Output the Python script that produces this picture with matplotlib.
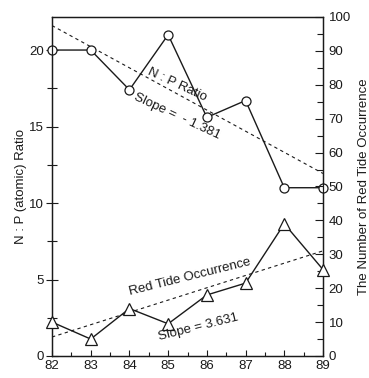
import matplotlib
matplotlib.use("Agg")
import matplotlib.pyplot as plt
from matplotlib.ticker import MultipleLocator
from matplotlib.transforms import IdentityTransform
import numpy as np

plt.rcParams['font.family'] = ['Liberation Sans', 'DejaVu Sans']

years = [82, 83, 84, 85, 86, 87, 88, 89]
np_ratio = [20.0, 20.0, 17.4, 21.0, 15.6, 16.7, 11.0, 11.0]
red_tide = [10, 5, 14, 9.5, 18, 21.5, 39, 25.5]

np_slope = -1.381
np_start = 21.6      # trend value at 82
rt_slope = 3.631
rt_start = 5.6       # trend value at 82

xticks = [82, 83, 84, 85, 86, 87, 88, 89]
left_ticks = [0, 5, 10, 15, 20]
right_ticks = [0, 10, 20, 30, 40, 50, 60, 70, 80, 90, 100]

W, H = 369, 378
fig = plt.figure(figsize=(W / 100, H / 100), dpi=100)
ax = fig.add_axes([52/W, 1-356/H, (323-52)/W, (356-17)/H])
ax2 = ax.twinx()

fs = 9.5
lc = '#1a1a1a'

# N:P ratio
ax.plot(years, np_ratio, color=lc, lw=1.0, marker='o', ms=6.5,
        mfc='white', mec=lc, mew=0.9, clip_on=False, zorder=5)
tx = np.array([years[0], years[-1]])
ax.plot(tx, np_start + np_slope * (tx - years[0]), color=lc, lw=0.8,
        ls=(0, (3, 3)), zorder=3)

# Red tide
ax2.plot(years, red_tide, color=lc, lw=1.0, marker='^', ms=8,
         mfc='white', mec=lc, mew=0.9, clip_on=False, zorder=5)
ax2.plot(tx, rt_start + rt_slope * (tx - years[0]), color=lc, lw=0.8,
         ls=(0, (3, 3)), zorder=3)

ax.set_xlim(82, 89)
ax.set_ylim(0, 22.16)
ax2.set_ylim(0, 100)

ax.set_xticks(xticks)
ax.xaxis.set_minor_locator(MultipleLocator(0.5))
ax.set_yticks(left_ticks)
ax.yaxis.set_minor_locator(MultipleLocator(2.5))
ax2.set_yticks(right_ticks)
ax2.yaxis.set_minor_locator(MultipleLocator(5))

ax.tick_params(axis='x', which='major', direction='in', length=4, width=0.8,
               labelsize=fs, pad=3, colors=lc)
ax.tick_params(axis='x', which='minor', direction='in', length=3, width=0.8, colors=lc)
ax.tick_params(axis='y', which='major', direction='inout', length=8, width=0.8,
               labelsize=fs, pad=2, colors=lc)
ax.tick_params(axis='y', which='minor', direction='inout', length=7, width=0.8, colors=lc)
ax2.tick_params(axis='y', which='major', direction='in', length=6, width=0.8,
                labelsize=fs, pad=4, colors=lc)
ax2.tick_params(axis='y', which='minor', direction='in', length=4, width=0.8, colors=lc)

for a in (ax, ax2):
    for s in a.spines.values():
        s.set_linewidth(0.9)
        s.set_color(lc)

ax.set_ylabel('N : P (atomic) Ratio', fontsize=fs, color=lc)
ax.yaxis.set_label_coords(-25/271, 0.5)
ax2.set_ylabel('The Number of Red Tide Occurrence', fontsize=fs, color=lc,
               rotation=90)
ax2.yaxis.set_label_coords((358-52)/271, 0.5)

# Annotations (pixel positions from top-left)
def ptext(x, y, s, rot):
    fig.text(x, H - y, s, transform=IdentityTransform(), fontsize=fs, color=lc,
             rotation=rot, ha='center', va='center', rotation_mode='anchor')

ptext(177, 85, 'N : P Ratio', -25)
ptext(177, 116, 'Slope =  - 1.381', -25)
ptext(190, 277, 'Red Tide Occurrence', 14)
ptext(198, 327, 'Slope = 3.631', 14)

fig.savefig('out.png', dpi=100)
